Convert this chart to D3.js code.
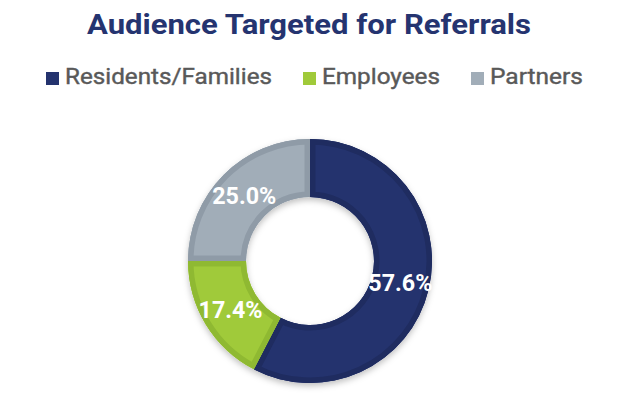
<!DOCTYPE html>
<html>
<head>
<meta charset="utf-8">
<script src="https://cdn.jsdelivr.net/npm/d3@7"></script>
<style>
  body { margin: 0; background: #fff; }
  text { font-family: Roboto, "Noto Sans", sans-serif; }
</style>
</head>
<body>
<div id="chart-container"></div>
<script>
let categories = ["Residents/Families", "Employees", "Partners"];
let shares = [57.6, 17.4, 25.0];
let fills = ["#24336e", "#a0ca3a", "#a1adb8"];
let borders = ["#1f2c60", "#8fb932", "#8f9ba7"];

let width = 620;
let height = 420;

var svg = d3
  .select("#chart-container")
  .append("svg")
  .attr("width", width)
  .attr("height", height);

// title (the reference type runs wide, so stretch it a little)
svg
  .append("text")
  .attr("x", 87)
  .attr("y", 34)
  .attr("textLength", 444)
  .attr("lengthAdjust", "spacingAndGlyphs")
  .style("font-size", "28px")
  .style("font-weight", "bold")
  .style("fill", "#253470")
  .text("Audience Targeted for Referrals");

// legend
let legendX = [46, 303, 471];
let legendW = [207, 118, 93];
let legend = svg
  .append("g")
  .selectAll("g")
  .data(categories)
  .enter()
  .append("g")
  .attr("transform", (d, i) => "translate(" + legendX[i] + ",72)");

legend
  .append("rect")
  .attr("width", 13)
  .attr("height", 13)
  .style("fill", (d, i) => fills[i]);

legend
  .append("text")
  .attr("x", 19)
  .attr("y", 12)
  .attr("textLength", (d, i) => legendW[i])
  .attr("lengthAdjust", "spacingAndGlyphs")
  .style("font-size", "22px")
  .style("fill", "#595959")
  .style("stroke", "#595959")
  .style("stroke-width", 0.4)
  .text((d) => d);

// donut
let cx = 310;
let cy = 261;
let outer = 122;
let inner = 64;

let defs = svg.append("defs");
defs
  .append("filter")
  .attr("id", "shadow")
  .attr("x", "-20%")
  .attr("y", "-20%")
  .attr("width", "140%")
  .attr("height", "140%")
  .append("feDropShadow")
  .attr("dx", 0)
  .attr("dy", 3)
  .attr("stdDeviation", 3)
  .attr("flood-color", "#000")
  .attr("flood-opacity", 0.25);

let pie = d3.pie().sort(null).value((d) => d);
let arcs = pie(shares);
let arc = d3.arc().innerRadius(inner).outerRadius(outer);

let g = svg
  .append("g")
  .attr("transform", "translate(" + cx + "," + cy + ")");

arcs.forEach((a, i) => {
  defs
    .append("clipPath")
    .attr("id", "clip" + i)
    .append("path")
    .attr("d", arc(a));
});

g.append("g")
  .attr("filter", "url(#shadow)")
  .selectAll("path")
  .data(arcs)
  .enter()
  .append("path")
  .attr("d", arc)
  .style("fill", (d, i) => fills[i]);

// darker inner border of each slice
g.append("g")
  .selectAll("path")
  .data(arcs)
  .enter()
  .append("path")
  .attr("d", arc)
  .attr("clip-path", (d, i) => "url(#clip" + i + ")")
  .style("fill", (d, i) => fills[i])
  .style("stroke", (d, i) => borders[i])
  .style("stroke-width", 11);

// labels
let labelArc = d3
  .arc()
  .innerRadius((inner + outer) / 2)
  .outerRadius((inner + outer) / 2);

g.append("g")
  .selectAll("text")
  .data(arcs)
  .enter()
  .append("text")
  .attr("transform", (d) => {
    let c = labelArc.centroid(d);
    return "translate(" + (c[0] - 32) + "," + c[1] + ")";
  })
  .attr("dy", "0.36em")
  .attr("textLength", 64)
  .attr("lengthAdjust", "spacingAndGlyphs")
  .style("font-size", "23px")
  .style("font-weight", "bold")
  .style("fill", "#fff")
  .text((d) => d.data.toFixed(1) + "%");
</script>
</body>
</html>
